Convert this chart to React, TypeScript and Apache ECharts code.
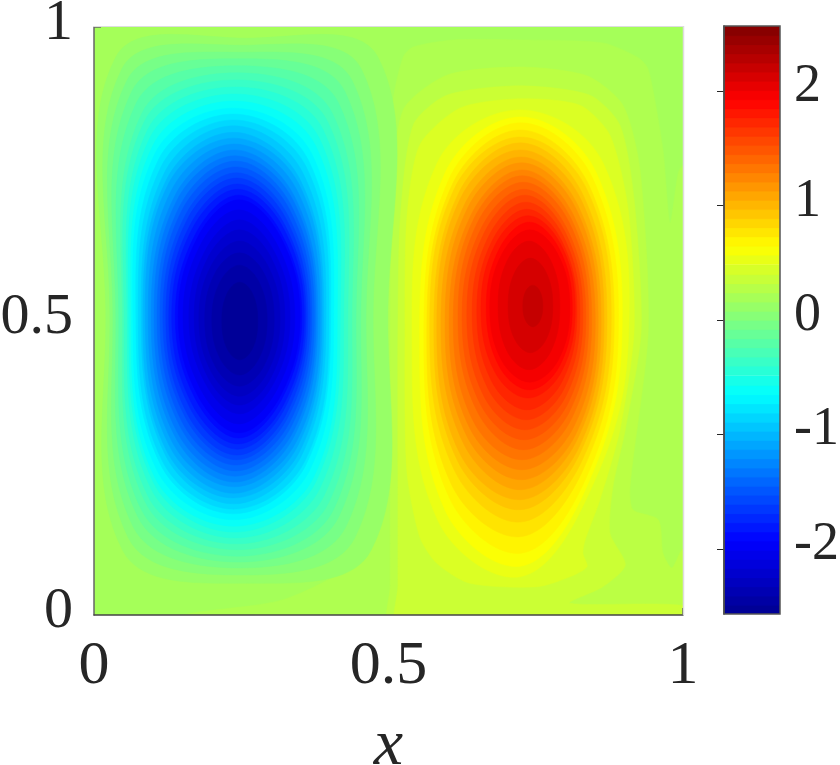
import React, { useEffect, useRef } from "react";
import * as echarts from "echarts";

// Colour scale (jet) and its range
const jetStops = ["#00008F", "#0000FF", "#007FFF", "#00FFFF", "#7FFF7F", "#FFFF00", "#FF7F00", "#FF0000", "#800000"];
const valueMin = -2.57;
const valueMax = 2.57;
const backgroundLevel = 0.19;

// Colour bar bands (centre value of each of the 64 bands)
const colorbarLevels = [
  -2.53, -2.45, -2.37, -2.29, -2.21, -2.13, -2.05, -1.97, -1.89, -1.81, -1.73, -1.65, -1.57, -1.49, -1.41, -1.33,
  -1.25, -1.17, -1.09, -1.01, -0.93, -0.85, -0.77, -0.69, -0.61, -0.53, -0.44, -0.36, -0.28, -0.2, -0.12, -0.04,
  0.04, 0.12, 0.2, 0.28, 0.36, 0.44, 0.53, 0.61, 0.69, 0.77, 0.85, 0.93, 1.01, 1.09, 1.17, 1.25,
  1.33, 1.41, 1.49, 1.57, 1.65, 1.73, 1.81, 1.89, 1.97, 2.05, 2.13, 2.21, 2.29, 2.37, 2.45, 2.53,
];
const colorbarHalfBand = 0.045;
const colorbarTicks = [-2, -1, 0, 1, 2];

// Left lobe: contour levels and the extents of each contour
const leftLevels = [0.12, 0.04, -0.04, -0.12, -0.2, -0.28, -0.36, -0.44, -0.52, -0.6, -0.68, -0.76, -0.84, -0.92, -1, -1.08, -1.16, -1.24, -1.32, -1.4, -1.48, -1.56, -1.64, -1.72, -1.8, -1.88, -1.96, -2.04, -2.12, -2.2, -2.28, -2.36, -2.44, -2.52];
const leftXMin = [0.02, 0.027, 0.032, 0.037, 0.042, 0.048, 0.051, 0.056, 0.059, 0.063, 0.066, 0.071, 0.075, 0.08, 0.083, 0.087, 0.092, 0.097, 0.102, 0.107, 0.112, 0.117, 0.122, 0.127, 0.132, 0.138, 0.143, 0.151, 0.161, 0.17, 0.178, 0.188, 0.2, 0.217];
const leftXMax = [0.499, 0.474, 0.462, 0.453, 0.445, 0.438, 0.431, 0.424, 0.418, 0.413, 0.407, 0.402, 0.399, 0.394, 0.39, 0.387, 0.384, 0.38, 0.377, 0.374, 0.37, 0.367, 0.363, 0.36, 0.357, 0.353, 0.35, 0.341, 0.333, 0.324, 0.316, 0.306, 0.294, 0.278];
const leftYMin = [0.054, 0.068, 0.08, 0.09, 0.1, 0.111, 0.121, 0.131, 0.141, 0.151, 0.162, 0.172, 0.18, 0.189, 0.199, 0.207, 0.218, 0.226, 0.236, 0.245, 0.255, 0.264, 0.272, 0.282, 0.291, 0.301, 0.31, 0.325, 0.342, 0.357, 0.372, 0.389, 0.408, 0.434];
const leftYMax = [0.981, 0.969, 0.957, 0.946, 0.934, 0.922, 0.91, 0.898, 0.886, 0.874, 0.862, 0.852, 0.842, 0.832, 0.821, 0.811, 0.801, 0.791, 0.781, 0.772, 0.762, 0.752, 0.743, 0.733, 0.724, 0.714, 0.706, 0.689, 0.672, 0.655, 0.636, 0.616, 0.595, 0.566];
const leftTopFull = [0.93, 0.91, 0.89, 0.87, 0.85, 0.83, 0.82, 0.81, 0.8, 0.79, 0.78, 0.77, 0.76, 0.75, 0.74, 0.74, 0.73, 0.72, 0.72, 0.71, 0.71, 0.7, 0.7, 0.69, 0.69, 0.68, 0.68, 0.68, 0.68, 0.69, 0.69, 0.7, 0.7, 0.71];
const leftBottomFull = [0.88, 0.86, 0.84, 0.82, 0.81, 0.8, 0.79, 0.78, 0.77, 0.77, 0.76, 0.75, 0.75, 0.74, 0.74, 0.73, 0.73, 0.72, 0.72, 0.71, 0.71, 0.7, 0.7, 0.69, 0.69, 0.68, 0.68, 0.68, 0.68, 0.69, 0.69, 0.7, 0.7, 0.71];

// Right lobe: irregular outer contours
const outerLevels = [0.24, 0.3, 0.38, 0.46];
const outer24X = [0.499, 0.503, 0.508, 0.525, 0.542, 0.61, 0.723, 0.864, 0.922, 0.939, 0.949, 0.966, 0.978, 0.992, 1.0, 1.012, 1.012, 0.151, 0.151, 0.321, 0.452, 0.486, 0.503];
const outer24Y = [0.485, 0.762, 0.876, 0.949, 0.966, 0.978, 0.978, 0.973, 0.949, 0.932, 0.893, 0.791, 0.667, 0.752, 0.765, 0.765, -0.017, -0.017, 0, 0.026, 0.094, 0.162, 0.276];
const outer30X = [0.503, 0.506, 0.525, 0.599, 0.723, 0.837, 0.898, 0.927, 0.941, 0.91, 0.915, 0.958, 0.966, 0.981, 0.998, 1.012, 1.012, 0.503, 0.503, 0.503];
const outer30Y = [0.485, 0.706, 0.859, 0.918, 0.932, 0.917, 0.867, 0.757, 0.485, 0.218, 0.179, 0.162, 0.105, 0.08, 0.111, 0.119, -0.03, -0.03, 0.05, 0.25];
const outer38X = [0.516, 0.52, 0.542, 0.599, 0.723, 0.842, 0.893, 0.917, 0.929, 0.902, 0.881, 0.876, 0.902, 0.864, 0.808, 1.012, 1.012, 0.516, 0.516, 0.516];
const outer38Y = [0.485, 0.672, 0.833, 0.884, 0.9, 0.884, 0.833, 0.706, 0.485, 0.315, 0.218, 0.139, 0.085, 0.048, 0.02, 0.014, -0.03, -0.03, 0.05, 0.25];
const outer46X = [0.528, 0.531, 0.553, 0.621, 0.723, 0.825, 0.876, 0.907, 0.917, 0.893, 0.859, 0.834, 0.83, 0.837, 0.808, 0.752, 0.638, 0.582, 0.553, 0.531];
const outer46Y = [0.485, 0.672, 0.799, 0.862, 0.878, 0.867, 0.816, 0.689, 0.485, 0.315, 0.196, 0.128, 0.105, 0.082, 0.065, 0.048, 0.054, 0.088, 0.133, 0.247];

// Right lobe: inner contours
const rightLevels = [0.54, 0.62, 0.7, 0.78, 0.86, 0.94, 1.02, 1.1, 1.18, 1.26, 1.34, 1.42, 1.5, 1.58, 1.66, 1.74, 1.82, 1.9, 1.98, 2.06, 2.14, 2.22];
const rightXMin = [0.54, 0.553, 0.56, 0.565, 0.57, 0.577, 0.582, 0.589, 0.596, 0.603, 0.61, 0.618, 0.625, 0.633, 0.642, 0.65, 0.657, 0.666, 0.672, 0.686, 0.703, 0.728];
const rightXMax = [0.907, 0.896, 0.89, 0.883, 0.878, 0.871, 0.866, 0.861, 0.856, 0.851, 0.845, 0.84, 0.835, 0.83, 0.825, 0.82, 0.817, 0.812, 0.808, 0.791, 0.779, 0.762];
const rightYMin = [0.065, 0.083, 0.105, 0.133, 0.158, 0.179, 0.196, 0.213, 0.23, 0.247, 0.264, 0.281, 0.298, 0.315, 0.332, 0.349, 0.369, 0.383, 0.396, 0.417, 0.446, 0.49];
const rightYMax = [0.859, 0.847, 0.837, 0.825, 0.813, 0.803, 0.791, 0.779, 0.769, 0.757, 0.747, 0.736, 0.724, 0.714, 0.702, 0.69, 0.679, 0.668, 0.655, 0.636, 0.607, 0.561];
const rightTopFull = [0.77, 0.75, 0.74, 0.73, 0.73, 0.72, 0.72, 0.71, 0.71, 0.7, 0.7, 0.7, 0.69, 0.69, 0.69, 0.69, 0.69, 0.69, 0.69, 0.7, 0.7, 0.71];
const rightSwFull = [0.76, 0.75, 0.74, 0.74, 0.73, 0.73, 0.73, 0.72, 0.72, 0.72, 0.72, 0.71, 0.71, 0.71, 0.71, 0.71, 0.71, 0.71, 0.71, 0.71, 0.71, 0.71];
const rightSeFull = [0.64, 0.65, 0.66, 0.67, 0.68, 0.69, 0.7, 0.7, 0.71, 0.71, 0.71, 0.71, 0.71, 0.71, 0.71, 0.71, 0.71, 0.71, 0.71, 0.71, 0.71, 0.71];

const SERIF = '"Liberation Serif", "DejaVu Serif", serif';
const INK = "#262626";

type Contour = { level: number; points: number[][]; smooth: number };

function extentContour(level: number, x0: number, x1: number, y0: number, y1: number, top: number, sw: number, se: number): Contour {
  const cx = (x0 + x1) / 2;
  const cy = (y0 + y1) / 2;
  const a = (x1 - x0) / 2;
  const b = (y1 - y0) / 2;
  return {
    level,
    smooth: 0.38,
    points: [
      [x1, cy],
      [cx + top * a, cy + top * b],
      [cx, y1],
      [cx - top * a, cy + top * b],
      [x0, cy],
      [cx - sw * a, cy - sw * b],
      [cx, y0],
      [cx + se * a, cy - se * b],
    ],
  };
}

function tracedContour(level: number, xs: number[], ys: number[]): Contour {
  return { level, smooth: 0.25, points: xs.map((x, i) => [x, ys[i]]) };
}

const contours: Contour[] = [
  { level: backgroundLevel, smooth: 0, points: [[0, 0], [1, 0], [1, 1], [0, 1]] },
  tracedContour(outerLevels[0], outer24X, outer24Y),
  tracedContour(outerLevels[1], outer30X, outer30Y),
  tracedContour(outerLevels[2], outer38X, outer38Y),
  tracedContour(outerLevels[3], outer46X, outer46Y),
  ...rightLevels.map((l, i) => extentContour(l, rightXMin[i], rightXMax[i], rightYMin[i], rightYMax[i], rightTopFull[i], rightSwFull[i], rightSeFull[i])),
  ...leftLevels.map((l, i) => extentContour(l, leftXMin[i], leftXMax[i], leftYMin[i], leftYMax[i], leftTopFull[i], leftBottomFull[i], leftBottomFull[i])),
];

export default function App() {
  const ref = useRef<HTMLDivElement>(null);
  useEffect(() => {
    const chart = echarts.init(ref.current!, undefined, { renderer: "svg" });
    const label = { color: INK, fontFamily: SERIF, fontSize: 58 };
    chart.setOption({
      animation: false,
      backgroundColor: "#ffffff",
      grid: [
        { left: 94, top: 27, width: 589, height: 588, outerBoundsMode: "none" },
        { left: 724, top: 26, width: 56, height: 588, outerBoundsMode: "none" },
      ],
      xAxis: [
        {
          gridIndex: 0,
          type: "value",
          min: 0,
          max: 1,
          interval: 0.5,
          z: 10,
          splitLine: { show: false },
          axisLine: { show: true, lineStyle: { color: "#444444", width: 1.5 } },
          axisTick: { show: true, inside: true, length: 7, customValues: [1], lineStyle: { color: "#444444", width: 1.5 } },
          axisLabel: { ...label, fontSize: 62, margin: 16 },
          name: "x",
          nameLocation: "middle",
          nameGap: 106,
          nameTextStyle: { ...label, fontSize: 66, lineHeight: 40, fontStyle: "italic" },
        },
        { gridIndex: 1, type: "value", min: 0, max: 1, show: false },
      ],
      yAxis: [
        {
          gridIndex: 0,
          type: "value",
          min: 0,
          max: 1,
          interval: 0.5,
          z: 10,
          splitLine: { show: false },
          axisLine: { show: true, lineStyle: { color: "#666666", width: 1.5 } },
          axisTick: { show: true, inside: true, length: 7, customValues: [1], lineStyle: { color: "#666666", width: 1.5 } },
          axisLabel: { ...label, margin: 21, verticalAlign: "bottom", lineHeight: 16 },
        },
        {
          gridIndex: 1,
          type: "value",
          position: "right",
          min: valueMin,
          max: valueMax,
          z: 10,
          splitLine: { show: false },
          axisLine: { show: true, lineStyle: { color: INK, width: 1.5 } },
          axisTick: { show: true, inside: true, length: 7, customValues: colorbarTicks, lineStyle: { color: INK, width: 1 } },
          axisLabel: { ...label, fontSize: 54, margin: 14, verticalAlign: "bottom", lineHeight: 16, customValues: colorbarTicks },
        },
      ],
      visualMap: {
        type: "continuous",
        show: false,
        min: valueMin,
        max: valueMax,
        dimension: 2,
        seriesIndex: [0, 1],
        inRange: { color: jetStops },
      },
      graphic: [
        { type: "line", z: 20, shape: { x1: 93, y1: 26.5, x2: 684, y2: 26.5 }, style: { stroke: "#dddddd", lineWidth: 1 } },
        { type: "line", z: 20, shape: { x1: 683.5, y1: 26, x2: 683.5, y2: 615 }, style: { stroke: "#dddddd", lineWidth: 1.5 } },
        { type: "rect", z: 20, shape: { x: 724, y: 26, width: 56, height: 588 }, style: { fill: "none", stroke: "#555555", lineWidth: 1.5 } },
      ],
      series: [
        {
          type: "custom",
          coordinateSystem: "cartesian2d",
          xAxisIndex: 0,
          yAxisIndex: 0,
          clip: true,
          encode: { x: 0, y: 1 },
          data: contours.map((c, i) => [i / contours.length, 0.5, c.level]),
          renderItem: (params: any, api: any) => {
            const c = contours[params.dataIndex];
            const fill = api.visual("color");
            return {
              type: "polygon",
              shape: { points: c.points.map((p) => api.coord(p)), smooth: c.smooth },
              style: { fill, stroke: fill, lineWidth: 0.5 },
            };
          },
        },
        {
          type: "custom",
          coordinateSystem: "cartesian2d",
          xAxisIndex: 1,
          yAxisIndex: 1,
          clip: true,
          encode: { x: 0, y: 1 },
          data: colorbarLevels.map((l) => [0.5, l, l]),
          renderItem: (_params: any, api: any) => {
            const level = api.value(1);
            const p0 = api.coord([0, level + colorbarHalfBand]);
            const p1 = api.coord([1, level - colorbarHalfBand]);
            const fill = api.visual("color");
            return {
              type: "rect",
              shape: { x: p0[0], y: p0[1], width: p1[0] - p0[0], height: p1[1] - p0[1] },
              style: { fill, stroke: fill, lineWidth: 0.3 },
            };
          },
        },
      ],
    });
    return () => chart.dispose();
  }, []);
  return <div ref={ref} style={{ position: "fixed", left: 0, top: 0, width: 840, height: 765 }} />;
}
